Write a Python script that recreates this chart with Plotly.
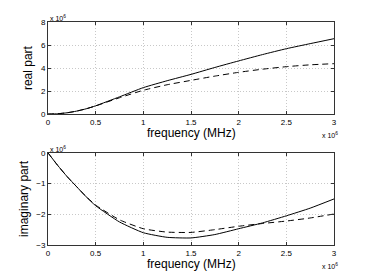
import plotly.graph_objects as go

freq = [0, 0.1, 0.2, 0.3, 0.4, 0.5, 0.75, 1.0, 1.25, 1.5, 1.75, 2.0, 2.25, 2.5, 2.75, 3.0]
real_solid = [0, 0.03, 0.115, 0.26, 0.46, 0.72, 1.5, 2.3, 2.9, 3.45, 4.05, 4.62, 5.17, 5.68, 6.12, 6.55]
real_dashed = [0, 0.03, 0.115, 0.26, 0.46, 0.71, 1.42, 2.07, 2.55, 2.93, 3.3, 3.63, 3.9, 4.12, 4.28, 4.38]
imag_solid = [0, -0.4, -0.77, -1.1, -1.43, -1.72, -2.25, -2.6, -2.75, -2.77, -2.66, -2.47, -2.28, -2.05, -1.8, -1.5]
imag_dashed = [0, -0.4, -0.77, -1.1, -1.42, -1.70, -2.18, -2.47, -2.58, -2.59, -2.5, -2.39, -2.3, -2.22, -2.12, -1.99]

x_ticks = [0, 0.5, 1, 1.5, 2, 2.5, 3]
x_ticklabels = ["0", "0.5", "1", "1.5", "2", "2.5", "3"]
real_ticks = [0, 2, 4, 6, 8]
imag_ticks = [0, -1, -2, -3]

fig = go.Figure()
ln = dict(color="black", width=1, shape="spline", smoothing=0.5)
fig.add_trace(go.Scatter(x=freq, y=real_solid, mode="lines", line=ln, xaxis="x", yaxis="y"))
fig.add_trace(go.Scatter(x=freq, y=real_dashed, mode="lines", line=dict(ln, dash="6px,4px"), xaxis="x", yaxis="y"))
fig.add_trace(go.Scatter(x=freq, y=imag_solid, mode="lines", line=ln, xaxis="x2", yaxis="y2"))
fig.add_trace(go.Scatter(x=freq, y=imag_dashed, mode="lines", line=dict(ln, dash="6px,4px"), xaxis="x2", yaxis="y2"))

font = "Liberation Sans, Arial, sans-serif"
axcommon = dict(showline=True, mirror="ticks", linecolor="#333", linewidth=1, ticks="inside", ticklen=3,
                tickcolor="#333", showgrid=True, gridcolor="#c8c8c8", griddash="1px,2px", gridwidth=1,
                zeroline=False, automargin=False, tickfont=dict(size=8, family=font, color="black"))
tfont = dict(size=12, family=font, color="black")

# page body has an 8px margin, so the figure is sized to end at the window edge
fig.update_layout(
    width=362, height=270,
    margin=dict(l=40, r=36, t=14, b=33),
    paper_bgcolor="white", plot_bgcolor="white",
    showlegend=False,
    xaxis=dict(axcommon, domain=[0, 1], range=[0, 3], tickvals=x_ticks, ticktext=x_ticklabels, anchor="y"),
    yaxis=dict(axcommon, domain=[0.587, 1], range=[0, 8], tickvals=real_ticks, anchor="x",
               title=dict(text="real part", font=tfont, standoff=5)),
    xaxis2=dict(axcommon, domain=[0, 1], range=[0, 3], tickvals=x_ticks, ticktext=x_ticklabels, anchor="y2"),
    yaxis2=dict(axcommon, domain=[0, 0.413], range=[-3, 0], tickvals=imag_ticks, anchor="x2",
                tickformat="d",
                title=dict(text="imaginary part", font=tfont, standoff=5)),
)

for yb, sh in [(0.587, -19), (0.0, -19)]:
    fig.add_annotation(x=0.5, y=yb, xref="paper", yref="paper", xanchor="center", yanchor="middle",
                       text="frequency (MHz)", showarrow=False, font=tfont, yshift=sh)

exp_font = dict(size=7, family=font, color="black")
fig.add_annotation(x=0, y=1, xref="paper", yref="paper", xanchor="left", yanchor="bottom",
                   text="x 10<sup>6</sup>", showarrow=False, font=exp_font, yshift=-2)
fig.add_annotation(x=0, y=0.413, xref="paper", yref="paper", xanchor="left", yanchor="bottom",
                   text="x 10<sup>6</sup>", showarrow=False, font=exp_font, yshift=-2)
fig.add_annotation(x=1, y=0.587, xref="paper", yref="paper", xanchor="center", yanchor="middle",
                   text="x 10<sup>6</sup>", showarrow=False, font=exp_font, yshift=-21, xshift=-4)
fig.add_annotation(x=1, y=0, xref="paper", yref="paper", xanchor="center", yanchor="middle",
                   text="x 10<sup>6</sup>", showarrow=False, font=exp_font, yshift=-21, xshift=-4)

fig.write_html("out.html")
